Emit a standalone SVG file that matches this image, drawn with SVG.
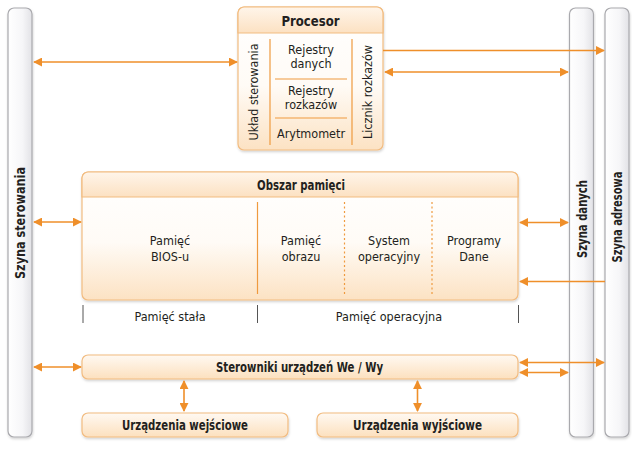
<svg xmlns="http://www.w3.org/2000/svg" width="640" height="449" viewBox="0 0 640 449">
<defs>
<linearGradient id="gBox" x1="0" y1="0" x2="0" y2="1">
<stop offset="0" stop-color="#FFFFFF"/><stop offset="0.55" stop-color="#FFFBF6"/><stop offset="1" stop-color="#FCE2C3"/>
</linearGradient>
<linearGradient id="gHead" x1="0" y1="0" x2="0" y2="1">
<stop offset="0" stop-color="#FFF5EA"/><stop offset="1" stop-color="#FCE1C2"/>
</linearGradient>
<linearGradient id="gSmall" x1="0" y1="0" x2="0" y2="1">
<stop offset="0" stop-color="#FFF9F2"/><stop offset="1" stop-color="#FCE0BE"/>
</linearGradient>
<linearGradient id="gBus" x1="0" y1="0" x2="1" y2="0">
<stop offset="0" stop-color="#FFFFFF"/><stop offset="0.6" stop-color="#F6F6F8"/><stop offset="1" stop-color="#E2E2E6"/>
</linearGradient>
<filter id="sh" x="-10%" y="-10%" width="120%" height="130%">
<feDropShadow dx="0.5" dy="1.5" stdDeviation="1.2" flood-color="#000" flood-opacity="0.18"/>
</filter>
<marker id="ah" viewBox="0 0 10 10" refX="9" refY="5" markerWidth="9" markerHeight="9" markerUnits="userSpaceOnUse" orient="auto-start-reverse">
<path d="M0,0 L10,5 L0,10 Z" fill="#EF8F2A"/>
</marker>
</defs>
<style>
.bus{fill:url(#gBus);stroke:#A9A9AD;stroke-width:1.2}
.box{stroke:#F2BC80;stroke-width:1.2}
.t{font-family:"Liberation Sans Narrow","DejaVu Sans Condensed","Liberation Sans",sans-serif;fill:#231F20;text-anchor:middle}
.b{font-weight:bold;font-size:14px}
.r{font-size:12.5px}
.c{stroke:#EF8F2A;stroke-width:1.6;fill:none}
.sep{stroke:#EF9A3E;stroke-width:1.2}
.dash{stroke:#EF9A3E;stroke-width:1.2;stroke-dasharray:2,2.5}
.tick{stroke:#555;stroke-width:1}
</style>
<rect width="640" height="449" fill="#FFFFFF"/>

<g id="szyna-sterowania">
<rect class="bus" x="8" y="8" width="24" height="429" rx="6" filter="url(#sh)"/>
<text class="t b" transform="translate(25,223) rotate(-90)" textLength="112" lengthAdjust="spacingAndGlyphs">Szyna sterowania</text>
</g>
<g id="szyna-danych">
<rect class="bus" x="569.5" y="8" width="24" height="429" rx="6" filter="url(#sh)"/>
<text class="t b" transform="translate(586.5,219) rotate(-90)" textLength="78" lengthAdjust="spacingAndGlyphs">Szyna danych</text>
</g>
<g id="szyna-adresowa">
<rect class="bus" x="605" y="8" width="24" height="429" rx="6" filter="url(#sh)"/>
<text class="t b" transform="translate(622,217) rotate(-90)" textLength="91" lengthAdjust="spacingAndGlyphs">Szyna adresowa</text>
</g>

<g id="procesor">
<rect class="box" x="238" y="7" width="145" height="143" rx="6" fill="url(#gBox)" filter="url(#sh)"/>
<path class="box" d="M238,33 V13 a6,6 0 0 1 6,-6 H377 a6,6 0 0 1 6,6 V33 Z" fill="url(#gHead)"/>
<text class="t b" x="310.5" y="25.5" font-size="15px" textLength="58" lengthAdjust="spacingAndGlyphs">Procesor</text>
<line class="sep" x1="270" y1="39" x2="270" y2="145"/>
<line class="sep" x1="352" y1="39" x2="352" y2="145"/>
<line class="sep" x1="275" y1="79" x2="347" y2="79"/>
<line class="sep" x1="275" y1="118" x2="347" y2="118"/>
<text class="t r" x="311" y="54">Rejestry</text>
<text class="t r" x="311" y="68">danych</text>
<text class="t r" x="311" y="95">Rejestry</text>
<text class="t r" x="311" y="109">rozkazów</text>
<text class="t r" x="311" y="138">Arytmometr</text>
<text class="t r" transform="translate(258,92) rotate(-90)">Układ sterowania</text>
<text class="t r" transform="translate(372,92) rotate(-90)">Licznik rozkazów</text>
</g>

<g id="obszar-pamieci">
<rect class="box" x="82" y="172" width="436" height="128" rx="6" fill="url(#gBox)" filter="url(#sh)"/>
<path class="box" d="M82,197 V178 a6,6 0 0 1 6,-6 H512 a6,6 0 0 1 6,6 V197 Z" fill="url(#gHead)"/>
<text class="t b" x="301" y="189.5" textLength="88" lengthAdjust="spacingAndGlyphs">Obszar pamięci</text>
<line class="sep" x1="257.5" y1="202" x2="257.5" y2="294"/>
<line class="dash" x1="344.5" y1="202" x2="344.5" y2="294"/>
<line class="dash" x1="432" y1="202" x2="432" y2="294"/>
<text class="t r" x="170" y="245">Pamięć</text>
<text class="t r" x="170" y="261">BIOS-u</text>
<text class="t r" x="301" y="245">Pamięć</text>
<text class="t r" x="301" y="261">obrazu</text>
<text class="t r" x="389" y="245">System</text>
<text class="t r" x="389" y="261">operacyjny</text>
<text class="t r" x="474" y="245">Programy</text>
<text class="t r" x="474" y="261">Dane</text>
</g>

<g id="podzial-pamieci">
<line class="tick" x1="83" y1="305" x2="83" y2="323"/>
<line class="tick" x1="257.5" y1="305" x2="257.5" y2="323"/>
<line class="tick" x1="518.5" y1="305" x2="518.5" y2="323"/>
<text class="t r" x="170" y="321">Pamięć stała</text>
<text class="t r" x="389" y="321">Pamięć operacyjna</text>
</g>

<g id="sterowniki">
<rect class="box" x="82" y="355" width="436" height="24" rx="6" fill="url(#gSmall)" filter="url(#sh)"/>
<text class="t b" x="299.5" y="372" textLength="167" lengthAdjust="spacingAndGlyphs">Sterowniki urządzeń We / Wy</text>
</g>
<g id="urzadzenia-wejsciowe">
<rect class="box" x="82" y="413" width="206" height="24" rx="6" fill="url(#gSmall)" filter="url(#sh)"/>
<text class="t b" x="185" y="430" textLength="126" lengthAdjust="spacingAndGlyphs">Urządzenia wejściowe</text>
</g>
<g id="urzadzenia-wyjsciowe">
<rect class="box" x="317" y="413" width="201" height="24" rx="6" fill="url(#gSmall)" filter="url(#sh)"/>
<text class="t b" x="417.5" y="430" textLength="129" lengthAdjust="spacingAndGlyphs">Urządzenia wyjściowe</text>
</g>

<g id="connectors">
<line class="c" x1="34" y1="62" x2="237" y2="62" marker-start="url(#ah)" marker-end="url(#ah)"/>
<line class="c" x1="383" y1="50.5" x2="604" y2="50.5" marker-end="url(#ah)"/>
<line class="c" x1="385" y1="72" x2="568" y2="72" marker-start="url(#ah)" marker-end="url(#ah)"/>
<line class="c" x1="34" y1="222" x2="81" y2="222" marker-start="url(#ah)" marker-end="url(#ah)"/>
<line class="c" x1="520" y1="222.5" x2="568" y2="222.5" marker-start="url(#ah)" marker-end="url(#ah)"/>
<line class="c" x1="605" y1="281.5" x2="520" y2="281.5" marker-end="url(#ah)"/>
<line class="c" x1="34" y1="367" x2="81" y2="367" marker-start="url(#ah)" marker-end="url(#ah)"/>
<line class="c" x1="520" y1="362.5" x2="604" y2="362.5" marker-start="url(#ah)" marker-end="url(#ah)"/>
<line class="c" x1="520" y1="372.5" x2="568" y2="372.5" marker-start="url(#ah)" marker-end="url(#ah)"/>
<line class="c" x1="184" y1="381" x2="184" y2="411" marker-start="url(#ah)" marker-end="url(#ah)"/>
<line class="c" x1="417.5" y1="381" x2="417.5" y2="411" marker-start="url(#ah)" marker-end="url(#ah)"/>
</g>
</svg>
